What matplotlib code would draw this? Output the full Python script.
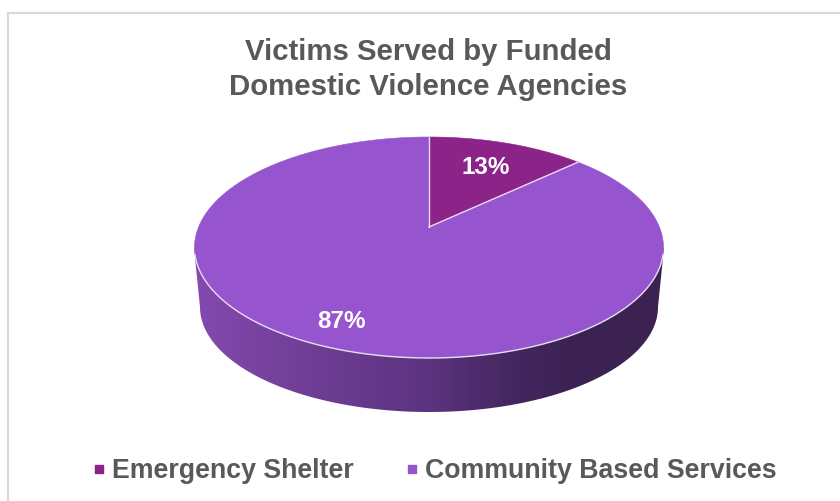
import numpy as np
import matplotlib
matplotlib.use("Agg")
import matplotlib.pyplot as plt
from matplotlib.colors import LinearSegmentedColormap
from matplotlib.lines import Line2D
from matplotlib.patches import Polygon

categories = ["Emergency Shelter", "Community Based Services"]
shares = [13, 87]
pct_labels = ["13%", "87%"]
title_lines = "Victims Served by Funded\nDomestic Violence Agencies"

slice_colors = ["#8C2388", "#9655CE"]
text_gray = "#595959"
rim_light = "#E6DDF0"

# top face of the disc in picture pixels
cx, cy = 429.0, 247.5
rx, ry = 234.5, 110.5
tilt = 0.186  # perspective, moves the pie centre up from the ellipse centre

# bottom edge of the disc
bottom_cy, bottom_rx, bottom_ry = 307.0, 229.0, 105.0


def disc_point(u, v):
    # circle -> ellipse through a projective map, so the slices look tilted
    d = 1 + tilt * v
    x = u * np.sqrt(1 - tilt ** 2) / d
    y = (v + tilt) / d
    return cx + rx * x, cy - ry * y


def slice_polygon(start, end):
    ang = np.linspace(start, end, 200)
    xs, ys = disc_point(np.sin(ang), np.cos(ang))
    x0, y0 = disc_point(0.0, 0.0)
    return np.column_stack([np.r_[x0, xs], np.r_[y0, ys]])


plt.rcParams["font.family"] = ["Liberation Sans", "DejaVu Sans"]
plt.rcParams["font.weight"] = "bold"

fig = plt.figure(figsize=(8.4, 5.01), dpi=100)
ax = fig.add_axes([0, 0, 1, 1])
ax.set_xlim(0, 840)
ax.set_ylim(501, 0)
ax.axis("off")

# chart frame, only top and left fall inside the crop
ax.plot([8, 8, 840], [501, 12.5, 12.5], color="#D9D9D9", lw=1.5, solid_joinstyle="miter")

# side wall with a horizontal gradient, clipped to the outline
side_cmap = LinearSegmentedColormap.from_list(
    "side",
    [(0.0, "#8549B0"), (0.22, "#713F98"), (0.5, "#5C3380"), (0.68, "#44265F"),
     (0.8, "#3D2354"), (1.0, "#3B2250")],
)
grad = np.linspace(0, 1, 256).reshape(1, -1)
img = ax.imshow(grad, cmap=side_cmap, extent=(194, 664, 415, 240), aspect="auto", zorder=1)
ax.set_xlim(0, 840)
ax.set_ylim(501, 0)

t = np.linspace(np.pi, 2 * np.pi, 200)
low_x = cx + bottom_rx * np.cos(t)
low_y = bottom_cy - bottom_ry * np.sin(t)
outline = np.vstack([[[cx - rx, cy], [cx + rx, cy]],
                     [[cx + rx - 1, cy + 15], [cx + bottom_rx, bottom_cy]],
                     np.column_stack([low_x[::-1], low_y[::-1]]),
                     [[cx - rx + 1, cy + 15]]])
clip = Polygon(outline, closed=True, transform=ax.transData, fc="none", ec="none")
ax.add_patch(clip)
img.set_clip_path(clip)

# top face
start = 0.0
total = sum(shares)
for share, color in zip(shares, slice_colors):
    end = start + 2 * np.pi * share / total
    ax.add_patch(Polygon(slice_polygon(start, end), closed=True, fc=color,
                         ec=color, lw=0.4, zorder=2))
    start = end

# light seams between the slices
x0, y0 = disc_point(0.0, 0.0)
for frac in np.cumsum([0] + shares[:-1]) / total:
    a = 2 * np.pi * frac
    xe, ye = disc_point(np.sin(a), np.cos(a))
    ax.plot([x0, xe], [y0, ye], color=rim_light, lw=1.0, zorder=3)

# light rim along the front edge
rim = np.linspace(np.pi * 0.52, np.pi * 1.48, 200)
ax.plot(cx + rx * np.sin(rim), cy - ry * np.cos(rim), color=rim_light, lw=1.0, zorder=3)

ax.text(486, 167, pct_labels[0], color="white", fontsize=17.5, ha="center", va="center", zorder=4)
ax.text(341, 322, pct_labels[1], color="white", fontsize=17.5, ha="center", va="center", zorder=4)

ax.text(428, 69.5, title_lines, color=text_gray, fontsize=21.2, ha="center", va="center",
        linespacing=1.28, zorder=4)

handles = [Line2D([], [], ls="none", marker="s", ms=6.2, mfc=c, mec=c) for c in slice_colors]
ax.legend(handles, categories, loc="center", bbox_to_anchor=(434.4 / 840, 1 - 471 / 501),
          ncol=2, frameon=False, fontsize=19.3, labelcolor=text_gray, handlelength=0.5,
          handletextpad=0.25, columnspacing=1.9, borderpad=0, borderaxespad=0)

fig.savefig("out.png", dpi=100)
